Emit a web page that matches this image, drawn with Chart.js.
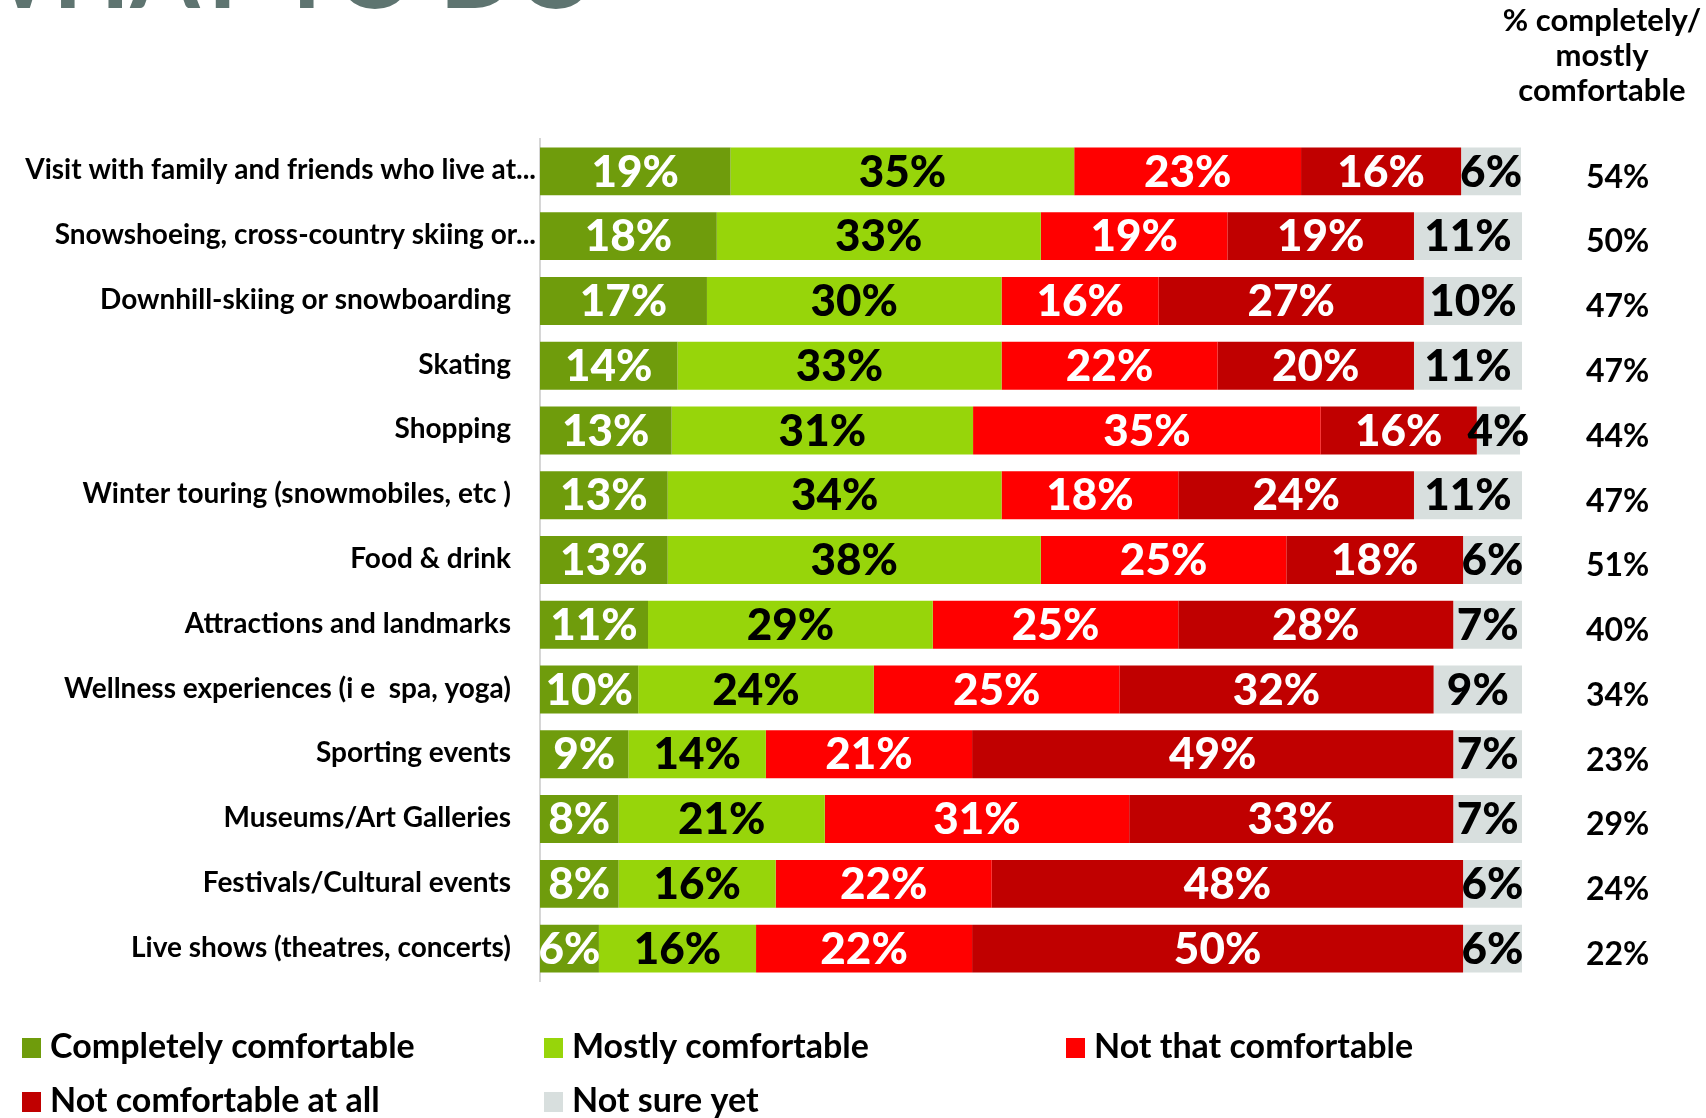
<!DOCTYPE html>
<html>
<head>
<meta charset="utf-8">
<script src="https://cdn.jsdelivr.net/npm/chart.js@4.4.1/dist/chart.umd.min.js"></script>
<style>
  html, body { margin: 0; padding: 0; background: #ffffff; }
  #wrap { width: 1706px; height: 1118px; }
</style>
</head>
<body>
<div id="wrap"><canvas id="comfort" width="1706" height="1118"></canvas></div>
<script>
// categories, top to bottom
var categories = [
  'Visit with family and friends who live at...',
  'Snowshoeing, cross-country skiing or...',
  'Downhill-skiing or snowboarding',
  'Skating',
  'Shopping',
  'Winter touring (snowmobiles, etc )',
  'Food & drink',
  'Attractions and landmarks',
  'Wellness experiences (i e  spa, yoga)',
  'Sporting events',
  'Museums/Art Galleries',
  'Festivals/Cultural events',
  'Live shows (theatres, concerts)'
];

// series values (% of respondents)
var completely = [19.4, 18, 17, 14, 13.4, 13, 13, 11, 10, 9, 8, 8, 6];
var mostly     = [35, 33, 30, 33, 30.7, 34, 38, 29, 24, 14, 21, 16, 16];
var notThat    = [23.1, 19, 16, 22, 35.4, 18, 25, 25, 25, 21, 31, 22, 22];
var notAtAll   = [16.3, 19, 27, 20, 15.9, 24, 18, 28, 32, 49, 33, 48, 50];
var notSure    = [6.1, 11, 10, 11, 4.4, 11, 6, 7, 9, 7, 7, 6, 6];

// right hand column: % completely/mostly comfortable
var comfortable = [54, 50, 47, 47, 44, 47, 51, 40, 34, 23, 29, 24, 22];

var seriesNames  = ['Completely comfortable', 'Mostly comfortable', 'Not that comfortable',
                    'Not comfortable at all', 'Not sure yet'];
var seriesColors = ['#6f9c0c', '#97d50a', '#ff0000', '#c00000', '#d8dfde'];
var labelColors  = ['#ffffff', '#000000', '#ffffff', '#ffffff', '#000000'];

var headerLines = ['% completely/', 'mostly', 'comfortable'];
var titleText = 'WHAT TO DO';

var FONT = 'Lato, "Open Sans", sans-serif';

var textPlugin = {
  id: 'textPlugin',
  beforeDraw: function (chart) {
    var ctx = chart.ctx;
    ctx.save();
    // page title, cut off at the top edge
    ctx.font = 'bold 100px ' + FONT;
    ctx.fillStyle = '#5e7470';
    ctx.textAlign = 'left';
    ctx.textBaseline = 'alphabetic';
    ctx.fillText(titleText, -52, 8);
    ctx.restore();
  },
  afterDatasetsDraw: function (chart) {
    var ctx = chart.ctx;
    var area = chart.chartArea;
    var y = chart.scales.y;
    ctx.save();

    // values inside the segments
    ctx.font = '900 44px ' + FONT;
    ctx.textAlign = 'center';
    ctx.textBaseline = 'middle';
    chart.data.datasets.forEach(function (ds, di) {
      var meta = chart.getDatasetMeta(di);
      meta.data.forEach(function (bar, i) {
        ctx.fillStyle = labelColors[di];
        ctx.fillText(Math.round(ds.data[i]) + '%', (bar.x + bar.base) / 2, bar.y + 1);
      });
    });

    // category labels
    ctx.font = 'bold 28px ' + FONT;
    ctx.fillStyle = '#000000';
    ctx.textAlign = 'right';
    categories.forEach(function (c, i) {
      var gap = c.slice(-3) === '...' ? 4 : 29;
      ctx.fillText(c, area.left - gap, y.getPixelForValue(i) - 1);
    });

    // right column
    ctx.font = 'bold 32px ' + FONT;
    ctx.textAlign = 'left';
    comfortable.forEach(function (v, i) {
      ctx.fillText(v + '%', 1586, y.getPixelForValue(i) + 6);
    });

    // right column header
    ctx.font = 'bold 31px ' + FONT;
    ctx.textAlign = 'center';
    ctx.textBaseline = 'alphabetic';
    headerLines.forEach(function (t, i) {
      ctx.fillText(t, 1602, 31 + i * 35);
    });

    // legend
    var cols = [22, 544, 1066];
    var rows = [1047, 1101];
    ctx.font = 'bold 34px ' + FONT;
    ctx.textAlign = 'left';
    ctx.textBaseline = 'middle';
    seriesNames.forEach(function (name, i) {
      var lx = cols[i % 3];
      var ly = rows[Math.floor(i / 3)];
      ctx.fillStyle = seriesColors[i];
      ctx.fillRect(lx, ly - 9, 19, 20);
      ctx.fillStyle = '#000000';
      ctx.fillText(name, lx + 28, ly);
    });
    ctx.restore();
  }
};

var series = [completely, mostly, notThat, notAtAll, notSure];

var chart = new Chart(document.getElementById('comfort').getContext('2d'), {
  type: 'bar',
  data: {
    labels: categories,
    datasets: series.map(function (vals, i) {
      return {
        label: seriesNames[i],
        data: vals,
        backgroundColor: seriesColors[i],
        borderWidth: 0,
        categoryPercentage: 1,
        barPercentage: 0.74
      };
    })
  },
  options: {
    indexAxis: 'y',
    responsive: false,
    animation: false,
    layout: { padding: { left: 540, right: 184, top: 139, bottom: 137 } },
    scales: {
      x: { stacked: true, min: 0, max: 100, display: false },
      y: {
        stacked: true,
        ticks: { display: false },
        grid: { display: false },
        border: { display: true, color: '#d6d6d6', width: 2 },
        afterFit: function (s) { s.width = 0; }
      }
    },
    plugins: {
      legend: { display: false },
      tooltip: { enabled: false }
    }
  },
  plugins: [textPlugin]
});
</script>
</body>
</html>
